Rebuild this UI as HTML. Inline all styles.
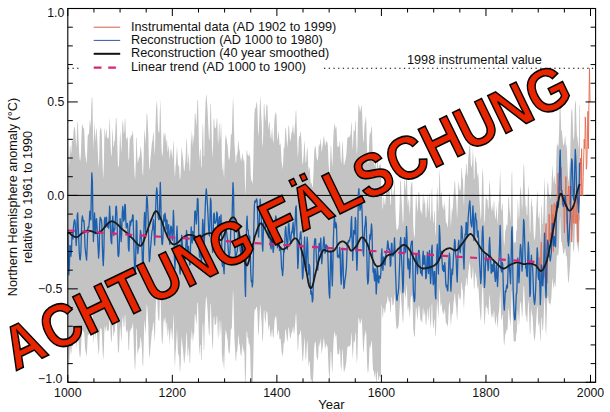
<!DOCTYPE html>
<html><head><meta charset="utf-8"><style>html,body{margin:0;padding:0;background:#fff;}svg{display:block;}</style></head>
<body><svg width="610" height="412" viewBox="0 0 610 412">
<rect width="610" height="412" fill="#fff"/>
<polygon points="67.8,135.1 68.3,153.4 68.8,168.6 69.4,160.8 69.9,145.7 70.4,146.8 70.9,154.5 71.5,150.2 72.0,137.8 72.5,141.0 73.0,141.3 73.5,131.5 74.1,128.0 74.6,126.6 75.1,128.6 75.6,137.2 76.2,147.7 76.7,139.8 77.2,123.6 77.7,121.2 78.3,133.5 78.8,144.2 79.3,154.8 79.8,160.1 80.3,160.9 80.9,153.7 81.4,137.5 81.9,126.8 82.4,123.4 83.0,126.9 83.5,128.5 84.0,127.7 84.5,136.0 85.0,150.9 85.6,156.8 86.1,160.2 86.6,164.0 87.1,153.8 87.7,136.1 88.2,134.1 88.7,135.0 89.2,130.8 89.8,119.5 90.3,122.0 90.8,128.0 91.3,106.6 91.8,97.6 92.4,97.7 92.9,126.3 93.4,149.5 93.9,138.6 94.5,121.5 95.0,131.8 95.5,142.2 96.0,131.0 96.5,127.6 97.1,136.8 97.6,146.7 98.1,157.4 98.6,168.1 99.2,159.6 99.7,133.8 100.2,126.5 100.7,129.6 101.3,128.6 101.8,134.3 102.3,154.6 102.8,170.6 103.3,178.9 103.9,162.9 104.4,131.2 104.9,127.6 105.4,138.6 106.0,132.0 106.5,127.8 107.0,138.3 107.5,138.6 108.0,136.3 108.6,140.1 109.1,131.3 109.6,116.6 110.1,126.7 110.7,148.2 111.2,154.7 111.7,156.5 112.2,136.3 112.8,127.5 113.3,145.0 113.8,147.4 114.3,140.4 114.8,141.2 115.4,130.0 115.9,118.3 116.4,117.9 116.9,127.0 117.5,150.2 118.0,166.3 118.5,167.4 119.0,164.0 119.5,148.8 120.1,130.8 120.6,136.7 121.1,152.6 121.6,147.0 122.2,127.1 122.7,119.7 123.2,123.8 123.7,133.7 124.3,131.9 124.8,118.8 125.3,119.3 125.8,133.3 126.3,140.2 126.9,137.7 127.4,136.4 127.9,141.2 128.4,158.2 129.0,160.7 129.5,144.7 130.0,135.3 130.5,139.2 131.0,136.7 131.6,134.5 132.1,136.0 132.6,131.1 133.1,131.7 133.7,151.3 134.2,166.9 134.7,176.0 135.2,179.2 135.8,162.4 136.3,137.3 136.8,138.6 137.3,158.2 137.8,163.6 138.4,159.8 138.9,157.2 139.4,157.5 139.9,154.2 140.5,145.8 141.0,148.1 141.5,153.0 142.0,159.3 142.5,173.1 143.1,176.0 143.6,158.4 144.1,137.3 144.6,128.8 145.2,137.8 145.7,144.7 146.2,127.0 146.7,112.4 147.3,115.3 147.8,123.9 148.3,134.5 148.8,156.4 149.3,169.9 149.9,167.0 150.4,159.1 150.9,154.3 151.4,148.2 152.0,141.9 152.5,141.1 153.0,134.4 153.5,131.5 154.0,140.6 154.6,156.0 155.1,146.4 155.6,122.2 156.1,109.1 156.7,100.6 157.2,105.4 157.7,120.9 158.2,129.8 158.7,132.4 159.3,132.5 159.8,113.6 160.3,99.3 160.8,115.8 161.4,144.7 161.9,155.1 162.4,155.9 162.9,151.0 163.5,135.6 164.0,132.0 164.5,137.7 165.0,131.8 165.5,135.6 166.1,145.6 166.6,138.9 167.1,140.4 167.6,152.4 168.2,149.3 168.7,145.1 169.2,153.3 169.7,160.3 170.2,153.8 170.8,148.6 171.3,149.4 171.8,154.5 172.3,159.4 172.9,151.8 173.4,140.1 173.9,146.6 174.4,170.3 175.0,177.7 175.5,166.7 176.0,162.8 176.5,153.8 177.0,145.4 177.6,156.8 178.1,167.6 178.6,164.0 179.1,166.2 179.7,177.9 180.2,180.1 180.7,171.9 181.2,155.0 181.7,146.5 182.3,153.1 182.8,157.0 183.3,160.9 183.8,168.7 184.4,171.5 184.9,166.0 185.4,160.4 185.9,152.7 186.5,137.6 187.0,141.5 187.5,161.9 188.0,164.2 188.5,152.0 189.1,158.9 189.6,170.7 190.1,170.4 190.6,150.5 191.2,129.4 191.7,140.3 192.2,146.9 192.7,134.5 193.2,136.0 193.8,143.8 194.3,131.9 194.8,113.5 195.3,112.8 195.9,120.2 196.4,126.9 196.9,114.9 197.4,99.8 198.0,100.4 198.5,120.6 199.0,150.8 199.5,162.3 200.0,149.5 200.6,149.2 201.1,166.5 201.6,167.9 202.1,145.0 202.7,122.8 203.2,128.9 203.7,156.0 204.2,156.3 204.7,127.4 205.3,109.2 205.8,98.2 206.3,93.8 206.8,98.8 207.4,107.6 207.9,117.1 208.4,128.8 208.9,138.5 209.5,140.8 210.0,122.4 210.5,102.3 211.0,105.7 211.5,128.2 212.1,148.4 212.6,157.8 213.1,145.7 213.6,119.8 214.2,118.0 214.7,127.9 215.2,128.5 215.7,127.6 216.2,126.0 216.8,117.4 217.3,119.3 217.8,139.6 218.3,145.0 218.9,125.0 219.4,122.5 219.9,141.0 220.4,135.7 221.0,120.8 221.5,134.6 222.0,167.8 222.5,171.8 223.0,159.4 223.6,173.3 224.1,178.8 224.6,161.0 225.1,142.6 225.7,134.6 226.2,136.4 226.7,139.3 227.2,143.6 227.7,146.0 228.3,155.3 228.8,159.4 229.3,159.8 229.8,156.6 230.4,145.9 230.9,134.1 231.4,135.0 231.9,132.5 232.5,110.9 233.0,96.7 233.5,105.4 234.0,128.4 234.5,144.3 235.1,153.0 235.6,162.1 236.1,163.2 236.6,155.3 237.2,154.4 237.7,150.2 238.2,140.4 238.7,143.1 239.2,148.9 239.8,151.1 240.3,157.2 240.8,159.7 241.3,161.5 241.9,156.6 242.4,152.1 242.9,157.2 243.4,161.5 243.9,158.0 244.5,164.0 245.0,186.3 245.5,195.6 246.0,176.4 246.6,150.3 247.1,150.5 247.6,155.2 248.1,154.5 248.7,156.2 249.2,156.5 249.7,152.8 250.2,157.5 250.7,174.4 251.3,181.3 251.8,179.9 252.3,184.4 252.8,180.3 253.4,158.0 253.9,130.7 254.4,113.9 254.9,108.7 255.4,108.5 256.0,105.8 256.5,102.6 257.0,102.3 257.5,111.1 258.1,131.5 258.6,136.6 259.1,124.7 259.6,110.7 260.2,95.6 260.7,102.4 261.2,114.0 261.7,121.9 262.2,141.3 262.8,147.8 263.3,130.3 263.8,104.9 264.3,103.2 264.9,115.8 265.4,122.3 265.9,113.8 266.4,106.0 266.9,103.4 267.5,106.6 268.0,122.6 268.5,130.3 269.0,122.6 269.6,121.9 270.1,131.2 270.6,137.3 271.1,139.3 271.7,130.9 272.2,127.6 272.7,137.9 273.2,143.6 273.7,140.0 274.3,122.9 274.8,115.7 275.3,114.6 275.8,111.5 276.4,114.4 276.9,126.4 277.4,141.5 277.9,137.7 278.4,130.7 279.0,135.5 279.5,145.2 280.0,144.4 280.5,142.5 281.1,151.8 281.6,162.4 282.1,164.5 282.6,169.7 283.2,162.3 283.7,147.6 284.2,149.1 284.7,143.9 285.2,129.8 285.8,126.7 286.3,133.7 286.8,140.7 287.3,147.9 287.9,140.1 288.4,125.9 288.9,125.2 289.4,132.0 289.9,139.3 290.5,141.4 291.0,136.9 291.5,132.0 292.0,132.7 292.6,127.7 293.1,123.5 293.6,132.3 294.1,135.8 294.7,128.5 295.2,122.3 295.7,111.4 296.2,110.2 296.7,124.5 297.3,142.5 297.8,157.7 298.3,152.5 298.8,138.4 299.4,136.0 299.9,136.1 300.4,132.1 300.9,131.8 301.4,140.9 302.0,155.5 302.5,165.0 303.0,163.5 303.5,156.7 304.1,145.3 304.6,140.1 305.1,151.7 305.6,162.9 306.2,161.5 306.7,152.0 307.2,146.0 307.7,151.4 308.2,165.7 308.8,171.4 309.3,166.4 309.8,168.5 310.3,178.2 310.9,184.2 311.4,182.2 311.9,184.5 312.4,187.8 312.9,185.5 313.5,172.5 314.0,156.2 314.5,149.3 315.0,146.8 315.6,146.1 316.1,152.3 316.6,157.8 317.1,159.3 317.7,160.9 318.2,156.5 318.7,146.1 319.2,142.9 319.7,147.0 320.3,142.6 320.8,138.1 321.3,147.0 321.8,152.6 322.4,146.8 322.9,143.7 323.4,138.6 323.9,135.5 324.4,139.4 325.0,145.6 325.5,144.9 326.0,140.5 326.5,141.0 327.1,143.0 327.6,142.1 328.1,152.1 328.6,163.3 329.2,172.2 329.7,172.7 330.2,160.6 330.7,145.3 331.2,145.9 331.8,159.4 332.3,167.5 332.8,156.7 333.3,138.8 333.9,128.5 334.4,122.7 334.9,126.0 335.4,129.6 335.9,126.0 336.5,127.5 337.0,139.5 337.5,147.5 338.0,146.1 338.6,146.6 339.1,147.5 339.6,140.5 340.1,142.5 340.6,157.5 341.2,164.4 341.7,157.9 342.2,144.4 342.7,140.3 343.3,155.9 343.8,164.7 344.3,164.9 344.8,162.3 345.4,160.0 345.9,157.0 346.4,153.7 346.9,144.7 347.4,137.3 348.0,138.3 348.5,136.2 349.0,137.4 349.5,137.1 350.1,134.8 350.6,135.1 351.1,125.2 351.6,121.1 352.1,136.8 352.7,150.4 353.2,141.2 353.7,129.6 354.2,130.6 354.8,131.8 355.3,120.2 355.8,122.5 356.3,143.6 356.9,155.3 357.4,146.8 357.9,122.6 358.4,105.7 358.9,104.5 359.5,107.7 360.0,112.2 360.5,110.3 361.0,107.4 361.6,104.6 362.1,112.3 362.6,126.9 363.1,140.2 363.6,142.7 364.2,130.3 364.7,123.3 365.2,122.0 365.7,116.0 366.3,121.0 366.8,141.5 367.3,158.3 367.8,164.1 368.4,162.3 368.9,152.3 369.4,137.2 369.9,131.5 370.4,135.0 371.0,130.1 371.5,125.3 372.0,129.8 372.5,147.6 373.1,160.1 373.6,157.7 374.1,163.6 374.6,167.1 375.1,159.0 375.7,163.9 376.2,177.0 376.7,171.0 377.2,157.8 377.8,162.0 378.3,168.9 378.8,169.4 379.3,164.4 379.9,165.3 380.4,165.9 380.9,161.6 381.4,195.1 381.9,190.0 382.5,207.2 383.0,209.6 383.5,197.5 384.0,197.3 384.6,204.2 385.1,204.5 385.6,198.7 386.1,191.8 386.6,193.1 387.2,188.1 387.7,182.1 388.2,184.5 388.7,190.0 389.3,189.4 389.8,192.6 390.3,205.3 390.8,204.2 391.4,184.3 391.9,184.2 392.4,195.9 392.9,195.0 393.4,195.6 394.0,189.2 394.5,179.1 395.0,190.7 395.5,210.2 396.1,223.7 396.6,230.2 397.1,229.7 397.6,229.1 398.1,228.6 398.7,224.5 399.2,213.0 399.7,200.8 400.2,183.1 400.8,178.1 401.3,193.6 401.8,202.3 402.3,212.8 402.9,224.7 403.4,220.0 403.9,192.4 404.4,178.2 404.9,181.4 405.5,191.7 406.0,183.0 406.5,168.0 407.0,178.1 407.6,202.7 408.1,207.2 408.6,198.2 409.1,201.5 409.6,215.7 410.2,207.3 410.7,187.4 411.2,184.3 411.7,182.1 412.3,182.2 412.8,204.4 413.3,226.8 413.8,233.5 414.4,238.1 414.9,234.3 415.4,212.1 415.9,194.5 416.4,196.2 417.0,206.3 417.5,213.2 418.0,203.5 418.5,191.8 419.1,191.7 419.6,196.7 420.1,205.9 420.6,212.6 421.1,210.1 421.7,213.4 422.2,215.2 422.7,198.4 423.2,192.6 423.8,204.5 424.3,203.2 424.8,196.7 425.3,206.4 425.8,217.9 426.4,216.5 426.9,202.3 427.4,193.5 427.9,206.1 428.5,213.0 429.0,195.6 429.5,191.9 430.0,210.9 430.6,222.1 431.1,214.5 431.6,191.4 432.1,186.9 432.6,209.7 433.2,223.3 433.7,222.0 434.2,211.3 434.7,210.9 435.3,232.5 435.8,236.0 436.3,214.4 436.8,193.4 437.3,185.7 437.9,200.8 438.4,213.0 438.9,193.4 439.4,168.3 440.0,178.1 440.5,197.4 441.0,193.7 441.5,191.7 442.1,201.0 442.6,208.5 443.1,204.2 443.6,209.8 444.1,209.5 444.7,201.5 445.2,207.1 445.7,220.1 446.2,223.8 446.8,222.1 447.3,226.4 447.8,227.4 448.3,216.1 448.8,200.4 449.4,192.7 449.9,197.0 450.4,216.4 450.9,227.7 451.5,215.5 452.0,207.4 452.5,212.2 453.0,204.7 453.6,194.0 454.1,189.2 454.6,180.3 455.1,182.0 455.6,193.3 456.2,198.7 456.7,212.0 457.2,219.3 457.7,203.7 458.3,184.9 458.8,180.9 459.3,188.4 459.8,189.7 460.3,192.1 460.9,185.0 461.4,167.5 461.9,169.3 462.4,177.8 463.0,179.9 463.5,198.1 464.0,206.7 464.5,189.1 465.1,174.3 465.6,175.1 466.1,163.8 466.6,164.4 467.1,177.5 467.7,171.2 468.2,158.9 468.7,153.2 469.2,147.9 469.8,143.7 470.3,150.6 470.8,163.4 471.3,166.2 471.8,167.8 472.4,159.4 472.9,148.3 473.4,158.0 473.9,180.0 474.5,178.2 475.0,160.0 475.5,155.4 476.0,161.2 476.6,162.4 477.1,172.5 477.6,177.5 478.1,172.0 478.6,178.6 479.2,192.6 479.7,203.0 480.2,211.5 480.7,220.6 481.3,214.4 481.8,189.6 482.3,173.0 482.8,168.1 483.3,179.2 483.9,207.9 484.4,224.5 484.9,220.0 485.4,205.6 486.0,194.3 486.5,198.1 487.0,199.8 487.5,199.5 488.1,209.4 488.6,206.8 489.1,186.1 489.6,179.1 490.1,188.9 490.7,200.7 491.2,212.0 491.7,207.8 492.2,204.1 492.8,210.9 493.3,210.3 493.8,200.6 494.3,201.9 494.8,214.5 495.4,219.8 495.9,215.7 496.4,204.9 496.9,212.5 497.5,224.7 498.0,216.9 498.5,203.2 499.0,200.6 499.6,186.0 500.1,168.9 500.6,183.0 501.1,209.5 501.6,211.6 502.2,202.7 502.7,204.5 503.2,221.8 503.7,240.1 504.3,246.6 504.8,238.4 505.3,229.0 505.8,230.2 506.3,226.3 506.9,223.5 507.4,226.2 507.9,214.5 508.4,195.1 509.0,198.5 509.5,209.0 510.0,213.8 510.5,222.2 511.0,207.0 511.6,174.8 512.1,169.9 512.6,196.4 513.1,225.8 513.7,241.5 514.2,242.7 514.7,242.5 515.2,242.4 515.8,242.2 516.3,231.2 516.8,230.5 517.3,215.9 517.8,198.4 518.4,207.9 518.9,221.1 519.4,213.8 519.9,194.0 520.5,186.0 521.0,189.3 521.5,198.4 522.0,210.6 522.5,204.7 523.1,180.3 523.6,164.5 524.1,165.6 524.6,180.3 525.2,198.0 525.7,207.8 526.2,205.5 526.7,214.7 527.3,215.5 527.8,197.0 528.3,184.0 528.8,190.8 529.3,212.5 529.9,233.7 530.4,230.6 530.9,204.1 531.4,195.9 532.0,205.9 532.5,206.1 533.0,215.8 533.5,230.7 534.0,237.2 534.6,241.1 535.1,236.9 535.6,228.4 536.1,215.2 536.7,202.2 537.2,189.5 537.7,194.9 538.2,216.2 538.8,218.8 539.3,210.4 539.8,224.1 540.3,241.9 540.8,231.5 541.4,205.3 541.9,206.8 542.4,224.2 542.9,224.5 543.5,212.7 544.0,192.9 544.5,176.0 545.0,190.7 545.5,225.3 546.1,234.7 546.6,214.5 547.1,190.9 547.6,181.5 548.2,183.9 548.7,191.9 549.2,195.1 549.7,195.4 550.3,199.6 550.8,195.2 551.3,191.7 551.8,178.6 552.3,164.2 552.9,173.6 553.4,184.4 553.9,177.7 554.4,175.2 555.0,183.7 555.5,184.4 556.0,171.9 556.5,151.2 557.0,142.4 557.6,145.5 558.1,147.1 558.6,143.7 559.1,131.6 559.7,103.9 560.2,94.6 560.7,115.2 561.2,130.6 561.8,130.8 562.3,135.6 562.8,141.1 563.3,145.8 563.8,144.7 564.4,142.8 564.9,136.3 565.4,136.8 565.9,146.3 566.5,144.8 567.0,150.2 567.5,165.2 568.0,176.9 568.5,182.9 569.1,176.5 569.6,165.2 570.1,157.8 570.6,137.1 571.2,113.0 571.7,109.5 572.2,108.7 572.7,121.2 573.3,138.6 573.8,140.4 574.3,132.8 574.8,108.4 575.3,99.8 575.9,103.6 576.4,121.8 576.9,135.0 577.4,137.2 578.0,143.0 578.5,150.4 579.0,137.1 579.5,105.6 580.0,104.7 580.0,220.1 579.5,220.9 579.0,243.9 578.5,254.0 578.0,249.1 577.4,245.4 576.9,244.4 576.4,235.4 575.9,222.9 575.3,220.8 574.8,227.6 574.3,245.8 573.8,251.7 573.3,250.7 572.7,238.4 572.2,229.7 571.7,230.5 571.2,233.2 570.6,250.7 570.1,265.8 569.6,271.1 569.1,279.3 568.5,283.8 568.0,279.4 567.5,270.7 567.0,259.5 566.5,255.3 565.9,256.0 565.4,248.7 564.9,248.0 564.4,252.5 563.8,253.5 563.3,253.9 562.8,250.1 562.3,245.7 561.8,241.9 561.2,241.5 560.7,230.3 560.2,215.6 559.7,222.6 559.1,243.2 558.6,252.6 558.1,255.9 557.6,255.6 557.0,254.2 556.5,261.3 556.0,277.1 555.5,286.8 555.0,287.1 554.4,281.7 553.9,284.3 553.4,290.0 552.9,283.0 552.3,277.0 551.8,288.2 551.3,298.3 550.8,301.6 550.3,305.6 549.7,303.3 549.2,303.8 548.7,302.2 548.2,297.1 547.6,296.0 547.1,303.4 546.6,320.8 546.1,335.9 545.5,329.5 545.0,304.8 544.5,294.5 544.0,307.1 543.5,321.6 542.9,330.4 542.4,330.3 541.9,317.9 541.4,316.9 540.8,335.8 540.3,343.3 539.8,330.3 539.3,320.3 538.8,326.1 538.2,324.1 537.7,308.5 537.2,304.4 536.7,313.4 536.1,322.6 535.6,332.0 535.1,338.1 534.6,341.0 534.0,338.2 533.5,333.4 533.0,322.6 532.5,315.5 532.0,315.3 531.4,308.1 530.9,314.0 530.4,333.1 529.9,335.3 529.3,320.0 528.8,304.3 528.3,299.4 527.8,308.8 527.3,322.2 526.7,321.7 526.2,315.1 525.7,316.8 525.2,309.7 524.6,296.9 524.1,286.3 523.6,285.5 523.1,296.9 522.5,314.5 522.0,318.6 521.5,309.8 521.0,303.2 520.5,300.7 519.9,306.4 519.4,320.7 518.9,325.9 518.4,316.4 517.8,309.5 517.3,322.2 516.8,332.7 516.3,333.3 515.8,341.2 515.2,341.4 514.7,341.5 514.2,341.7 513.7,340.9 513.1,329.6 512.6,308.4 512.1,289.4 511.6,293.0 511.0,316.3 510.5,327.4 510.0,321.4 509.5,318.0 509.0,310.5 508.4,308.1 507.9,322.2 507.4,330.8 506.9,329.0 506.3,331.1 505.8,333.9 505.3,333.2 504.8,340.0 504.3,346.0 503.7,341.3 503.2,328.1 502.7,315.6 502.2,314.2 501.6,320.6 501.1,319.0 500.6,299.7 500.1,289.4 499.6,301.7 499.0,312.0 498.5,313.8 498.0,323.6 497.5,329.0 496.9,320.1 496.4,314.5 495.9,322.1 495.4,324.9 494.8,320.9 494.3,311.7 493.8,310.6 493.3,317.5 492.8,317.7 492.2,312.7 491.7,315.2 491.2,318.2 490.7,309.8 490.1,301.2 489.6,293.9 489.1,298.8 488.6,313.7 488.1,315.4 487.5,308.1 487.0,308.2 486.5,307.0 486.0,304.1 485.4,312.2 484.9,322.4 484.4,325.5 483.9,313.4 483.3,292.6 482.8,284.4 482.3,287.8 481.8,299.6 481.3,317.3 480.7,321.6 480.2,314.8 479.7,308.4 479.2,300.7 478.6,290.3 478.1,285.3 477.6,289.1 477.1,285.2 476.6,277.7 476.0,276.7 475.5,272.3 475.0,275.3 474.5,288.2 473.9,289.3 473.4,273.2 472.9,265.9 472.4,273.8 471.8,279.7 471.3,278.4 470.8,276.4 470.3,267.1 469.8,262.1 469.2,265.3 468.7,269.2 468.2,273.5 467.7,282.5 467.1,287.3 466.6,278.0 466.1,277.8 465.6,286.2 465.1,285.8 464.5,296.7 464.0,309.6 463.5,303.6 463.0,290.7 462.4,289.3 461.9,283.3 461.4,282.3 460.9,295.1 460.3,300.5 459.8,298.9 459.3,298.1 458.8,292.9 458.3,296.0 457.7,309.7 457.2,321.1 456.7,315.9 456.2,306.4 455.6,302.6 455.1,294.4 454.6,293.1 454.1,299.5 453.6,302.8 453.0,310.5 452.5,315.8 452.0,312.3 451.5,318.0 450.9,326.8 450.4,318.6 449.9,304.5 449.4,301.5 448.8,307.1 448.3,318.4 447.8,326.6 447.3,325.9 446.8,322.9 446.2,324.2 445.7,321.6 445.2,312.3 444.7,308.4 444.1,314.3 443.6,314.6 443.1,310.7 442.6,314.0 442.1,308.8 441.5,302.4 441.0,304.2 440.5,307.2 440.0,293.6 439.4,286.8 438.9,305.2 438.4,319.6 437.9,311.1 437.3,300.3 436.8,306.1 436.3,321.4 435.8,337.1 435.3,334.8 434.7,319.3 434.2,319.7 433.7,327.5 433.2,328.5 432.6,318.7 432.1,302.4 431.6,305.6 431.1,322.4 430.6,327.9 430.0,319.9 429.5,306.2 429.0,308.9 428.5,321.5 427.9,316.6 427.4,307.5 426.9,313.9 426.4,324.2 425.8,325.2 425.3,316.9 424.8,309.9 424.3,314.7 423.8,315.6 423.2,307.0 422.7,311.2 422.2,323.3 421.7,322.0 421.1,319.6 420.6,321.3 420.1,316.3 419.6,309.6 419.1,305.8 418.5,305.7 418.0,313.9 417.5,320.8 417.0,315.6 416.4,308.1 415.9,306.7 415.4,319.2 414.9,334.9 414.4,337.4 413.8,333.8 413.3,328.7 412.8,312.2 412.3,295.8 411.7,295.4 411.2,296.7 410.7,298.6 410.2,312.7 409.6,318.6 409.1,308.1 408.6,305.5 408.1,311.8 407.6,308.4 407.0,290.5 406.5,283.0 406.0,293.8 405.5,299.9 404.9,292.4 404.4,290.1 403.9,300.3 403.4,320.3 402.9,323.7 402.3,315.2 401.8,307.7 401.3,301.5 400.8,290.5 400.2,294.2 399.7,307.2 399.2,316.0 398.7,324.5 398.1,327.6 397.6,328.1 397.1,328.7 396.6,329.2 396.1,324.7 395.5,315.1 395.0,301.2 394.5,293.0 394.0,300.4 393.4,305.1 392.9,304.7 392.4,305.4 391.9,297.0 391.4,297.1 390.8,311.5 390.3,312.3 389.8,303.2 389.3,300.9 388.7,301.4 388.2,297.5 387.7,295.8 387.2,300.2 386.6,303.9 386.1,303.2 385.6,308.5 385.1,312.8 384.6,312.9 384.0,308.2 383.5,308.6 383.0,317.7 382.5,316.2 381.9,304.0 381.4,307.8 380.9,373.3 380.4,377.1 379.9,376.6 379.3,375.9 378.8,380.3 378.3,379.9 377.8,373.8 377.2,370.1 376.7,381.7 376.2,382.3 375.7,375.4 375.1,370.9 374.6,378.0 374.1,374.8 373.6,369.5 373.1,371.5 372.5,360.2 372.0,344.3 371.5,340.1 371.0,344.1 370.4,348.2 369.9,344.8 369.4,349.7 368.9,362.8 368.4,371.5 367.8,372.9 367.3,367.7 366.8,352.5 366.3,334.1 365.7,329.5 365.2,334.6 364.7,335.7 364.2,341.8 363.6,352.8 363.1,350.4 362.6,338.3 362.1,325.0 361.6,318.0 361.0,320.5 360.5,323.1 360.0,324.8 359.5,320.7 358.9,317.8 358.4,318.8 357.9,334.2 357.4,356.4 356.9,364.2 356.3,353.5 355.8,334.0 355.3,331.9 354.8,342.5 354.2,341.4 353.7,340.5 353.2,351.1 352.7,359.6 352.1,347.0 351.6,332.3 351.1,335.9 350.6,345.1 350.1,344.7 349.5,346.7 349.0,346.8 348.5,345.6 348.0,347.4 347.4,346.3 346.9,353.2 346.4,361.6 345.9,364.6 345.4,367.4 344.8,369.5 344.3,371.9 343.8,371.7 343.3,363.3 342.7,348.4 342.2,352.2 341.7,365.0 341.2,371.2 340.6,364.6 340.1,350.1 339.6,348.2 339.1,354.9 338.6,354.1 338.0,353.7 337.5,355.1 337.0,347.4 336.5,335.6 335.9,334.1 335.4,337.7 334.9,334.0 334.4,330.5 333.9,335.9 333.3,345.8 332.8,363.6 332.3,374.3 331.8,365.9 331.2,352.0 330.7,351.2 330.2,366.5 329.7,378.7 329.2,378.2 328.6,368.8 328.1,356.9 327.6,346.2 327.1,347.0 326.5,344.6 326.0,343.9 325.5,348.3 325.0,348.8 324.4,341.9 323.9,337.5 323.4,340.5 322.9,345.7 322.4,348.8 321.8,354.7 321.3,348.3 320.8,338.1 320.3,342.6 319.7,347.1 319.2,342.1 318.7,345.2 318.2,356.3 317.7,360.8 317.1,358.5 316.6,356.3 316.1,349.4 315.6,341.7 315.0,341.9 314.5,343.9 314.0,351.3 313.5,369.6 312.9,382.3 312.4,382.3 311.9,382.1 311.4,379.0 310.9,381.1 310.3,373.8 309.8,362.2 309.3,360.2 308.8,366.9 308.2,360.8 307.7,344.8 307.2,339.7 306.7,347.2 306.2,358.3 305.6,360.0 305.1,348.3 304.6,336.6 304.1,342.3 303.5,353.9 303.0,360.6 302.5,361.8 302.0,352.5 301.4,338.6 300.9,330.2 300.4,330.6 299.9,334.2 299.4,334.1 298.8,336.1 298.3,348.0 297.8,352.1 297.3,339.3 296.7,324.7 296.2,313.5 295.7,314.8 295.2,323.6 294.7,328.6 294.1,334.3 293.6,331.9 293.1,325.9 292.6,329.3 292.0,332.9 291.5,332.3 291.0,335.6 290.5,338.6 289.9,337.0 289.4,331.9 288.9,327.3 288.4,327.9 287.9,337.4 287.3,342.6 286.8,337.9 286.3,333.4 285.8,328.8 285.2,330.9 284.7,340.3 284.2,343.7 283.7,342.6 283.2,352.3 282.6,357.1 282.1,353.5 281.6,351.9 281.1,344.7 280.5,338.3 280.0,339.3 279.5,339.5 279.0,332.8 278.4,329.4 277.9,333.7 277.4,336.0 276.9,325.8 276.4,317.8 275.8,315.8 275.3,317.8 274.8,318.8 274.3,323.9 273.7,335.9 273.2,338.8 272.7,335.3 272.2,328.6 271.7,331.2 271.1,337.5 270.6,336.2 270.1,331.8 269.6,325.0 269.0,325.4 268.5,330.9 268.0,325.3 267.5,313.4 266.9,310.9 266.4,312.6 265.9,318.2 265.4,324.3 264.9,319.4 264.3,309.9 263.8,311.0 263.3,329.9 262.8,343.0 262.2,338.1 261.7,323.5 261.2,317.6 260.7,308.8 260.2,303.8 259.6,315.7 259.1,326.5 258.6,336.2 258.1,332.3 257.5,315.1 257.0,306.9 256.5,306.4 256.0,308.4 255.4,310.0 254.9,309.1 254.4,313.0 253.9,329.6 253.4,358.4 252.8,382.3 252.3,382.3 251.8,382.1 251.3,382.3 250.7,374.1 250.2,351.2 249.7,343.0 249.2,345.7 248.7,342.8 248.1,337.6 247.6,337.9 247.1,331.2 246.6,331.6 246.0,369.5 245.5,382.3 245.0,382.3 244.5,354.7 243.9,347.6 243.4,353.5 242.9,348.8 242.4,343.1 241.9,349.8 241.3,356.7 240.8,355.0 240.3,352.6 239.8,345.6 239.2,343.6 238.7,337.3 238.2,334.5 237.7,346.4 237.2,351.5 236.6,352.6 236.1,361.4 235.6,360.0 235.1,349.7 234.5,340.0 234.0,322.7 233.5,298.0 233.0,289.1 232.5,304.4 231.9,327.0 231.4,329.6 230.9,328.7 230.4,340.5 229.8,351.1 229.3,354.0 228.8,353.5 228.3,349.3 227.7,340.2 227.2,337.9 226.7,333.9 226.2,331.2 225.7,329.6 225.1,337.2 224.6,354.2 224.1,370.3 223.6,365.2 223.0,352.8 222.5,363.9 222.0,360.4 221.5,330.8 221.0,318.6 220.4,331.8 219.9,336.5 219.4,320.1 218.9,322.3 218.3,339.9 217.8,335.1 217.3,317.2 216.8,315.5 216.2,323.1 215.7,324.5 215.2,325.3 214.7,324.8 214.2,316.1 213.6,317.7 213.1,340.4 212.6,351.0 212.1,342.8 211.5,325.1 211.0,305.5 210.5,302.6 210.0,320.1 209.5,336.3 208.9,334.3 208.4,325.9 207.9,315.8 207.4,307.7 206.8,300.1 206.3,295.8 205.8,299.7 205.3,309.3 204.7,325.2 204.2,350.3 203.7,350.0 203.2,326.7 202.7,321.6 202.1,340.8 201.6,360.6 201.1,359.4 200.6,344.6 200.0,344.9 199.5,355.9 199.0,346.1 198.5,320.3 198.0,303.0 197.4,302.6 196.9,315.6 196.4,325.8 195.9,320.1 195.3,313.8 194.8,314.4 194.3,330.1 193.8,340.3 193.2,333.6 192.7,332.4 192.2,342.9 191.7,337.3 191.2,328.1 190.6,345.8 190.1,362.8 189.6,363.0 189.1,352.5 188.5,346.2 188.0,357.0 187.5,354.8 187.0,335.6 186.5,331.5 185.9,345.6 185.4,352.7 184.9,358.1 184.4,363.6 183.8,360.6 183.3,352.4 182.8,348.1 182.3,343.6 181.7,336.0 181.2,344.8 180.7,363.2 180.2,372.4 179.7,369.7 179.1,355.9 178.6,352.9 178.1,356.7 177.6,343.0 177.0,327.9 176.5,337.8 176.0,348.8 175.5,353.5 175.0,367.9 174.4,357.5 173.9,323.7 173.4,313.5 172.9,329.8 172.3,341.4 171.8,334.9 171.3,328.6 170.8,328.3 170.2,336.0 169.7,345.0 169.2,336.7 168.7,326.8 168.2,332.8 167.6,337.1 167.1,323.3 166.6,322.2 166.1,330.7 165.5,319.8 165.0,316.2 164.5,323.3 164.0,317.6 163.5,321.9 162.9,338.5 162.4,343.8 161.9,342.9 161.4,332.4 160.8,303.7 160.3,287.9 159.8,302.3 159.3,320.8 158.7,320.8 158.2,318.4 157.7,310.4 157.2,296.6 156.7,292.7 156.1,300.4 155.6,312.0 155.1,333.9 154.6,342.7 154.0,329.0 153.5,320.9 153.0,323.8 152.5,330.1 152.0,331.0 151.4,337.0 150.9,343.0 150.4,347.6 149.9,355.3 149.3,358.3 148.8,345.8 148.3,325.0 147.8,315.0 147.3,306.7 146.7,303.8 146.2,317.9 145.7,335.2 145.2,328.5 144.6,319.5 144.1,328.0 143.6,349.1 143.1,366.9 142.5,364.1 142.0,350.1 141.5,343.7 141.0,338.7 140.5,336.3 139.9,345.0 139.4,348.5 138.9,348.2 138.4,351.1 137.8,355.1 137.3,349.5 136.8,329.4 136.3,328.2 135.8,353.8 135.2,370.6 134.7,367.2 134.2,358.1 133.7,342.8 133.1,324.0 132.6,323.6 132.1,328.5 131.6,327.2 131.0,329.4 130.5,331.8 130.0,328.2 129.5,336.9 129.0,351.2 128.4,348.9 127.9,333.8 127.4,329.6 126.9,330.8 126.3,333.0 125.8,327.1 125.3,315.3 124.8,315.1 124.3,326.1 123.7,327.7 123.2,319.6 122.7,316.4 122.2,322.3 121.6,338.3 121.1,342.5 120.6,329.9 120.1,325.3 119.5,339.1 119.0,350.6 118.5,352.9 118.0,351.8 117.5,339.6 116.9,322.2 116.4,315.5 115.9,315.8 115.4,324.3 114.8,332.3 114.3,331.6 113.8,336.6 113.3,334.8 112.8,322.4 112.2,328.6 111.7,342.5 111.2,341.3 110.7,336.8 110.1,322.4 109.6,315.8 109.1,325.8 108.6,331.8 108.0,329.5 107.5,331.2 107.0,331.2 106.5,324.7 106.0,327.7 105.4,332.3 104.9,325.5 104.4,328.2 103.9,349.1 103.3,359.9 102.8,354.9 102.3,344.8 101.8,331.8 101.3,328.3 100.7,329.2 100.2,327.4 99.7,332.5 99.2,349.8 98.6,355.7 98.1,348.8 97.6,341.9 97.1,335.4 96.5,329.3 96.0,331.7 95.5,339.3 95.0,332.2 94.5,325.3 93.9,337.0 93.4,344.4 92.9,328.6 92.4,308.9 91.8,308.9 91.3,315.1 90.8,329.9 90.3,325.9 89.8,324.2 89.2,332.1 88.7,335.2 88.2,334.7 87.7,336.2 87.1,348.9 86.6,356.4 86.1,353.9 85.6,351.7 85.0,347.7 84.5,337.2 84.0,331.4 83.5,332.2 83.0,331.2 82.4,328.8 81.9,331.4 81.4,339.4 80.9,351.7 80.3,357.4 79.8,357.1 79.3,353.4 78.8,345.6 78.3,337.6 77.7,328.2 77.2,330.2 76.7,342.9 76.2,349.2 75.6,341.0 75.1,334.2 74.6,332.6 74.1,333.7 73.5,336.6 73.0,344.6 72.5,344.3 72.0,341.6 71.5,351.7 70.9,355.1 70.4,348.7 69.9,347.8 69.4,360.0 68.8,366.3 68.3,353.8 67.8,338.8" fill="#c3c3c3" stroke="none"/>
<path d="M67.8,195.4H595.6" stroke="#000" stroke-width="1" fill="none"/>
<polyline points="539.3,257.1 539.8,273.9 540.3,281.4 540.8,251.5 541.4,242.1 541.9,279.5 542.4,277.6 542.9,279.5 543.5,270.2 544.0,277.6 544.5,270.2 545.0,266.4 545.5,232.8 546.1,223.4 546.6,260.8 547.1,283.2 547.6,255.2 548.2,242.1 548.7,242.1 549.2,214.1 549.7,242.1 550.3,232.8 550.8,242.1 551.3,221.6 551.8,204.7 552.3,223.4 552.9,214.1 553.4,251.5 553.9,204.7 554.4,202.9 555.0,204.7 555.5,242.1 556.0,204.7 556.5,214.1 557.0,204.7 557.6,186.1 558.1,173.0 558.6,195.4 559.1,186.1 559.7,195.4 560.2,195.4 560.7,186.1 561.2,167.4 561.8,195.4 562.3,204.7 562.8,195.4 563.3,204.7 563.8,204.7 564.4,232.8 564.9,204.7 565.4,195.4 565.9,176.7 566.5,223.4 567.0,223.4 567.5,242.1 568.0,195.4 568.5,186.1 569.1,195.4 569.6,204.7 570.1,186.1 570.6,195.4 571.2,186.1 571.7,242.1 572.2,223.4 572.7,214.1 573.3,204.7 573.8,223.4 574.3,195.4 574.8,204.7 575.3,223.4 575.9,223.4 576.4,176.7 576.9,223.4 577.4,214.1 578.0,242.1 578.5,186.1 579.0,204.7 579.5,186.1 580.0,176.7 580.6,158.0 581.1,195.4 581.6,148.7 582.1,195.4 582.7,195.4 583.2,176.7 583.7,158.0 584.2,139.3 584.8,148.7 585.3,116.9 585.8,130.0 586.3,169.2 586.8,165.5 587.4,139.3 587.9,111.3 588.4,148.7 588.9,105.7 589.5,68.3 590.0,102.0" fill="none" stroke="#e66a4e" stroke-width="0.9" stroke-linejoin="round"/>
<polyline points="67.8,232.2 68.3,255.5 68.8,274.9 69.4,264.8 69.9,245.4 70.4,246.6 70.9,256.3 71.5,250.7 72.0,234.7 72.5,238.7 73.0,239.0 73.5,226.3 74.1,221.6 74.6,219.7 75.1,222.1 75.6,232.7 76.2,245.5 76.7,235.6 77.2,215.8 77.7,212.9 78.3,227.7 78.8,240.5 79.3,253.0 79.8,259.1 80.3,259.8 80.9,251.2 81.4,232.1 81.9,219.8 82.4,215.9 83.0,219.8 83.5,221.6 84.0,220.7 84.5,229.9 85.0,246.5 85.6,252.8 86.1,256.3 86.6,260.2 87.1,248.8 87.7,229.4 88.2,227.0 88.7,227.9 89.2,223.3 89.8,211.2 90.3,213.7 90.8,219.9 91.3,197.6 91.8,172.8 92.4,181.6 92.9,217.9 93.4,241.6 93.9,230.3 94.5,212.9 95.0,223.1 95.5,233.6 96.0,222.2 96.5,218.7 97.1,227.8 97.6,237.5 98.1,247.8 98.6,258.0 99.2,249.5 99.7,224.4 100.2,217.2 100.7,220.1 101.3,219.1 101.8,224.4 102.3,243.4 102.8,258.2 103.3,265.7 103.9,250.4 104.4,220.9 104.9,217.3 105.4,227.3 106.0,221.2 106.5,217.2 107.0,226.6 107.5,226.9 108.0,224.7 108.6,228.2 109.1,220.0 109.6,206.1 110.1,215.6 110.7,235.9 111.2,242.1 111.7,243.9 112.2,224.6 112.8,216.1 113.3,233.1 113.8,235.5 114.3,228.7 114.8,229.5 115.4,218.4 115.9,206.7 116.4,206.2 116.9,215.2 117.5,238.8 118.0,255.2 118.5,256.6 119.0,253.2 119.5,237.5 120.1,218.7 120.6,224.8 121.1,241.6 121.6,235.7 122.2,214.3 122.7,206.3 123.2,210.5 123.7,221.2 124.3,219.1 124.8,204.5 125.3,204.8 125.8,220.2 126.3,227.9 126.9,224.9 127.4,223.3 127.9,228.6 128.4,248.1 129.0,251.0 129.5,232.4 130.0,221.2 130.5,225.6 131.0,222.5 131.6,219.6 132.1,221.2 132.6,214.9 133.1,215.3 133.7,239.2 134.2,258.3 134.7,269.7 135.2,273.8 135.8,252.5 136.3,220.4 136.8,221.8 137.3,246.8 137.8,253.7 138.4,248.6 138.9,245.1 139.4,245.4 139.9,241.1 140.5,230.4 141.0,233.5 141.5,239.8 142.0,247.8 142.5,265.0 143.1,268.6 143.6,247.3 144.1,222.1 144.6,212.3 145.2,223.5 145.7,232.0 146.2,211.6 146.7,195.1 147.3,199.0 147.8,209.2 148.3,221.6 148.8,246.5 149.3,261.6 149.9,258.3 150.4,249.5 150.9,244.2 151.4,237.4 152.0,230.6 152.5,229.8 153.0,222.6 153.5,219.6 154.0,229.1 154.6,245.1 155.1,235.0 155.6,209.9 156.1,196.5 156.7,187.8 157.2,192.3 157.7,208.0 158.2,217.1 158.7,219.7 159.3,219.6 159.8,198.6 160.3,182.3 160.8,200.0 161.4,232.1 161.9,243.8 162.4,244.6 162.9,238.5 163.5,219.8 164.0,214.9 164.5,221.1 165.0,213.2 165.5,217.1 166.1,229.1 166.6,219.7 167.1,220.8 167.6,235.9 168.2,231.1 168.7,224.6 169.2,235.3 169.7,244.4 170.2,234.5 170.8,226.2 171.3,226.5 171.8,233.4 172.3,240.3 172.9,227.9 173.4,210.5 173.9,221.5 174.4,257.7 175.0,268.9 175.5,253.5 176.0,248.5 176.5,236.8 177.0,226.2 177.6,242.3 178.1,257.1 178.6,253.0 179.1,256.3 179.7,271.2 180.2,274.1 180.7,264.3 181.2,244.5 181.7,235.1 182.3,243.3 182.8,248.3 183.3,253.0 183.8,261.9 184.4,265.2 184.9,259.3 185.4,253.5 185.9,245.8 186.5,230.5 187.0,235.0 187.5,255.8 188.0,258.3 188.5,246.5 189.1,253.5 189.6,264.9 190.1,264.7 190.6,246.1 191.2,226.9 191.7,236.9 192.2,243.0 192.7,231.5 193.2,232.8 193.8,240.1 194.3,228.8 194.8,211.6 195.3,210.9 195.9,217.8 196.4,224.0 196.9,212.7 197.4,198.4 198.0,198.9 198.5,217.9 199.0,246.3 199.5,257.2 200.0,245.1 200.6,244.7 201.1,261.1 201.6,262.5 202.1,240.6 202.7,219.4 203.2,225.0 203.7,251.0 204.2,251.3 204.7,223.4 205.3,205.8 205.8,195.0 206.3,189.0 206.8,195.5 207.4,203.9 207.9,213.0 208.4,224.3 208.9,233.8 209.5,236.0 210.0,217.9 210.5,198.1 211.0,201.4 211.5,223.4 212.1,243.2 212.6,252.4 213.1,240.5 213.6,214.9 214.2,213.0 214.7,222.7 215.2,223.2 215.7,222.3 216.2,220.6 216.8,212.0 217.3,213.8 217.8,234.1 218.3,239.4 218.9,219.3 219.4,216.7 219.9,235.3 220.4,229.8 221.0,214.8 221.5,228.6 222.0,262.3 222.5,266.3 223.0,253.8 223.6,267.9 224.1,273.8 224.6,255.5 225.1,236.4 225.7,227.9 226.2,229.8 226.7,232.9 227.2,237.5 227.7,240.2 228.3,250.6 228.8,255.5 229.3,256.2 229.8,252.9 230.4,241.0 230.9,227.6 231.4,228.7 231.9,225.7 232.5,200.1 233.0,182.7 233.5,192.7 234.0,220.5 234.5,239.9 235.1,250.6 235.6,262.0 236.1,263.4 236.6,253.2 237.2,251.6 237.7,245.6 238.2,231.8 238.7,234.5 239.2,241.2 239.8,243.1 240.3,250.5 240.8,252.8 241.3,254.3 241.9,246.2 242.4,238.3 242.9,244.2 243.4,249.1 243.9,242.2 244.5,249.8 245.0,282.7 245.5,296.4 246.0,265.4 246.6,222.9 247.1,216.2 247.6,229.8 248.1,229.7 248.7,235.6 249.2,239.0 249.7,236.1 250.2,245.5 250.7,271.3 251.3,281.7 251.8,280.4 252.3,286.9 252.8,281.9 253.4,255.0 253.9,223.2 254.4,205.0 254.9,200.8 255.4,202.3 256.0,200.9 256.5,199.0 257.0,200.1 257.5,210.4 258.1,231.6 258.6,237.1 259.1,226.0 259.6,213.3 260.2,199.2 260.7,205.8 261.2,217.2 261.7,225.1 262.2,244.3 262.8,251.1 263.3,234.3 263.8,209.5 264.3,208.2 264.9,221.0 265.4,227.8 265.9,219.5 266.4,211.7 266.9,209.2 267.5,212.6 268.0,229.5 268.5,237.8 269.0,230.0 269.6,229.5 270.1,239.7 270.6,246.6 271.1,248.9 271.7,239.5 272.2,235.6 272.7,246.4 273.2,252.4 273.7,248.1 274.3,229.2 274.8,221.1 275.3,219.6 275.8,215.9 276.4,218.7 276.9,231.5 277.4,247.8 277.9,243.2 278.4,235.3 279.0,240.2 279.5,250.5 280.0,249.3 280.5,246.8 281.1,256.7 281.6,268.1 282.1,270.1 282.6,275.6 283.2,267.1 283.7,250.7 284.2,252.1 284.7,246.2 285.2,230.3 285.8,226.7 286.3,234.2 286.8,241.7 287.3,249.3 287.9,240.6 288.4,224.5 288.9,223.5 289.4,231.1 289.9,239.6 290.5,242.2 291.0,237.4 291.5,232.0 292.0,233.0 292.6,227.3 293.1,222.5 293.6,233.4 294.1,238.0 294.7,229.2 295.2,221.5 295.7,207.6 296.2,205.9 296.7,224.3 297.3,247.9 297.8,268.4 298.3,261.6 298.8,242.5 299.4,239.0 299.9,238.8 300.4,232.7 300.9,231.6 301.4,244.2 302.0,265.1 302.5,279.0 303.0,276.4 303.5,265.3 304.1,246.6 304.6,236.8 305.1,253.8 305.6,270.6 306.2,266.9 306.7,249.4 307.2,237.1 307.7,243.8 308.2,266.7 308.8,274.9 309.3,264.5 309.8,267.2 310.3,283.9 310.9,294.2 311.4,290.9 311.9,295.4 312.4,301.9 312.9,299.0 313.5,277.8 314.0,251.2 314.5,241.1 315.0,238.6 315.6,239.0 316.1,251.0 316.6,262.0 317.1,265.9 317.7,270.1 318.2,263.9 318.7,247.7 319.2,243.3 319.7,251.1 320.3,244.7 320.8,238.2 321.3,253.8 321.8,263.6 322.4,254.7 322.9,249.9 323.4,241.8 323.9,236.9 324.4,243.1 325.0,253.2 325.5,251.9 326.0,244.6 326.5,245.1 327.1,248.2 327.6,246.4 328.1,262.3 328.6,280.2 329.2,294.2 329.7,298.0 330.2,275.4 330.7,251.1 331.2,252.0 331.8,273.2 332.3,285.9 332.8,268.9 333.3,240.9 333.9,225.2 334.4,216.4 334.9,221.8 335.4,227.8 335.9,222.6 336.5,225.4 337.0,244.3 337.5,257.0 338.0,255.1 338.6,256.2 339.1,257.8 339.6,247.4 340.1,250.7 340.6,273.6 341.2,284.3 341.7,274.6 342.2,254.3 342.7,248.2 343.3,271.7 343.8,288.6 344.3,287.4 344.8,281.0 345.4,277.5 345.9,272.6 346.4,267.6 346.9,253.8 347.4,242.5 348.0,243.9 348.5,240.5 349.0,241.8 349.5,240.9 350.1,237.0 350.6,237.1 351.1,222.5 351.6,216.6 352.1,240.1 352.7,260.4 353.2,247.0 353.7,230.3 354.2,232.1 354.8,234.1 355.3,217.4 355.8,221.2 356.3,252.7 356.9,270.2 357.4,258.2 357.9,223.3 358.4,193.2 358.9,188.6 359.5,203.3 360.0,210.4 360.5,208.2 361.0,204.3 361.6,200.5 362.1,211.8 362.6,233.2 363.1,252.4 363.6,255.9 364.2,237.8 364.7,227.4 365.2,225.2 365.7,216.3 366.3,223.2 366.8,252.4 367.3,276.3 367.8,284.0 368.4,280.9 368.9,265.8 369.4,243.5 369.9,234.6 370.4,239.1 371.0,231.4 371.5,224.0 372.0,230.0 372.5,254.9 373.1,272.2 373.6,268.2 374.1,276.1 374.6,280.8 375.1,268.8 375.7,275.5 376.2,294.0 376.7,285.3 377.2,266.4 377.8,272.4 378.3,282.2 378.8,283.0 379.3,276.0 379.9,277.3 380.4,278.3 380.9,272.3 381.4,254.3 381.9,248.8 382.5,267.6 383.0,270.3 383.5,257.1 384.0,257.0 384.6,264.6 385.1,265.0 385.6,258.8 386.1,251.3 386.6,252.8 387.2,247.4 387.7,240.9 388.2,243.6 388.7,249.6 389.3,248.9 389.8,252.4 390.3,266.3 390.8,265.1 391.4,243.4 391.9,243.3 392.4,256.0 392.9,255.1 393.4,255.8 394.0,248.8 394.5,237.9 395.0,250.6 395.5,271.8 396.1,286.6 396.6,299.1 397.1,300.6 397.6,295.4 398.1,293.4 398.7,287.7 399.2,275.2 399.7,262.0 400.2,242.8 400.8,237.3 401.3,254.3 401.8,263.8 402.3,275.3 402.9,292.5 403.4,283.2 403.9,253.1 404.4,237.6 404.9,241.1 405.5,252.3 406.0,242.8 406.5,226.4 407.0,237.3 407.6,264.2 408.1,269.0 408.6,259.0 409.1,262.6 409.6,278.0 410.2,268.8 410.7,247.0 411.2,243.5 411.7,241.1 412.3,241.1 412.8,265.2 413.3,289.5 413.8,296.7 414.4,301.6 414.9,297.4 415.4,273.1 415.9,253.8 416.4,255.6 417.0,266.5 417.5,273.9 418.0,263.3 418.5,250.5 419.1,250.3 419.6,255.8 420.1,265.8 420.6,273.0 421.1,270.3 421.7,273.9 422.2,275.8 422.7,257.5 423.2,251.1 423.8,264.2 424.3,262.7 424.8,255.6 425.3,266.2 425.8,278.8 426.4,277.3 426.9,261.8 427.4,252.1 427.9,266.0 428.5,273.5 429.0,254.5 429.5,250.5 430.0,271.3 430.6,283.5 431.1,275.1 431.6,250.0 432.1,245.2 432.6,270.0 433.2,284.8 433.7,283.4 434.2,271.8 434.7,271.4 435.3,295.0 435.8,298.8 436.3,275.3 436.8,252.5 437.3,244.1 437.9,260.7 438.4,274.0 438.9,252.8 439.4,225.5 440.0,236.4 440.5,257.5 441.0,253.6 441.5,251.4 442.1,261.7 442.6,270.0 443.1,265.4 443.6,271.5 444.1,271.3 444.7,262.6 445.2,268.6 445.7,282.9 446.2,286.9 446.8,285.1 447.3,289.8 447.8,290.9 448.3,278.6 448.8,261.5 449.4,253.1 449.9,257.8 450.4,278.9 450.9,291.2 451.5,277.9 452.0,269.1 452.5,274.3 453.0,266.1 453.6,254.3 454.1,249.2 454.6,239.4 455.1,241.2 455.6,253.6 456.2,259.5 456.7,274.0 457.2,282.0 457.7,265.0 458.3,244.6 458.8,240.2 459.3,248.5 459.8,250.0 460.3,252.7 460.9,245.0 461.4,225.9 461.9,227.9 462.4,237.3 463.0,239.7 463.5,259.5 464.0,269.0 464.5,249.8 465.1,233.8 465.6,234.8 466.1,222.5 466.6,223.2 467.1,237.5 467.7,230.7 468.2,217.4 468.7,211.2 469.2,205.5 469.8,200.9 470.3,208.5 470.8,222.5 471.3,225.4 471.8,227.2 472.4,218.0 472.9,205.8 473.4,216.3 473.9,240.3 474.5,238.2 475.0,218.2 475.5,213.2 476.0,219.5 476.6,220.7 477.1,231.6 477.6,237.0 478.1,230.9 478.6,238.0 479.2,253.3 479.7,264.5 480.2,273.7 480.7,283.5 481.3,276.7 481.8,249.6 482.3,231.4 482.8,226.1 483.3,238.1 483.9,269.3 484.4,287.4 484.9,282.4 485.4,266.8 486.0,254.4 486.5,258.5 487.0,260.3 487.5,259.9 488.1,270.7 488.6,267.8 489.1,245.2 489.6,237.5 490.1,248.2 490.7,261.0 491.2,273.3 491.7,268.6 492.2,264.5 492.8,271.9 493.3,271.2 493.8,260.6 494.3,262.0 494.8,275.6 495.4,281.4 495.9,276.9 496.4,265.1 496.9,273.3 497.5,286.5 498.0,278.0 498.5,263.0 499.0,260.1 499.6,244.2 500.1,225.5 500.6,240.8 501.1,269.7 501.6,271.9 502.2,262.2 502.7,264.2 503.2,282.9 503.7,302.9 504.3,310.1 504.8,301.1 505.3,290.9 505.8,292.2 506.3,288.0 506.9,285.0 507.4,288.0 507.9,275.2 508.4,254.1 509.0,257.9 509.5,269.4 510.0,274.6 510.5,283.8 511.0,267.3 511.6,232.2 512.1,226.8 512.6,255.7 513.1,287.9 513.7,304.9 514.2,315.6 514.7,319.9 515.2,319.0 515.8,306.8 516.3,293.8 516.8,293.0 517.3,277.2 517.8,258.0 518.4,268.4 518.9,282.8 519.4,274.8 519.9,253.1 520.5,244.4 521.0,248.0 521.5,258.0 522.0,271.2 522.5,264.8 523.1,238.2 523.6,219.5 524.1,222.1 524.6,238.1 525.2,257.5 525.7,268.2 526.2,265.6 526.7,275.7 527.3,276.6 527.8,256.4 528.3,242.2 528.8,249.6 529.3,273.3 529.9,296.5 530.4,293.1 530.9,264.2 531.4,255.2 532.0,266.1 532.5,266.3 533.0,276.8 533.5,293.1 534.0,300.2 534.6,304.3 535.1,299.7 535.6,290.5 536.1,276.1 536.7,261.9 537.2,247.9 537.7,253.8 538.2,276.9 538.8,279.6 539.3,270.5 539.8,285.3 540.3,304.7 540.8,293.4 541.4,264.8 541.9,266.5 542.4,285.4 542.9,285.9 543.5,273.0 544.0,251.6 544.5,233.2 545.0,249.4 545.5,287.2 546.1,297.6 546.6,275.6 547.1,250.1 547.6,240.1 548.2,242.8 548.7,251.8 549.2,255.5 549.7,256.1 550.3,260.9 550.8,256.4 551.3,252.7 551.8,238.7 552.3,223.3 552.9,233.7 553.4,245.8 553.9,238.8 554.4,236.3 555.0,245.9 555.5,246.8 556.0,233.5 556.5,211.1 557.0,201.9 557.6,205.5 558.1,207.6 558.6,204.1 559.1,191.1 559.7,161.0 560.2,150.0 560.7,173.6 561.2,190.3 561.8,190.5 562.3,195.6 562.8,201.5 563.3,206.5 563.8,205.1 564.4,202.9 564.9,195.7 565.4,196.1 565.9,206.4 566.5,204.7 567.0,210.4 567.5,226.7 568.0,239.4 568.5,245.9 569.1,238.8 569.6,226.5 570.1,218.5 570.6,195.9 571.2,169.7 571.7,159.0 572.2,161.1 572.7,178.8 573.3,197.9 573.8,200.0 574.3,191.9 574.8,165.4 575.3,149.5 575.9,160.6 576.4,180.6 576.9,195.2 577.4,197.8 578.0,204.2 578.5,212.5 579.0,198.1 579.5,163.9 580.0,162.9" fill="none" stroke="#1b5fae" stroke-width="1.3" stroke-linejoin="round"/>
<polyline points="67.8,232.0 68.3,232.2 68.8,232.6 69.4,233.0 69.9,233.4 70.4,233.9 70.9,234.4 71.5,234.8 72.0,235.2 72.5,235.6 73.0,235.9 73.5,236.2 74.1,236.5 74.6,236.8 75.1,237.0 75.6,237.1 76.2,237.2 76.7,237.2 77.2,237.0 77.7,236.8 78.3,236.5 78.8,236.1 79.3,235.6 79.8,235.1 80.3,234.6 80.9,234.2 81.4,233.7 81.9,233.3 82.4,233.0 83.0,232.7 83.5,232.3 84.0,232.0 84.5,231.7 85.0,231.4 85.6,231.2 86.1,231.0 86.6,230.8 87.1,230.7 87.7,230.6 88.2,230.6 88.7,230.7 89.2,230.7 89.8,230.8 90.3,231.0 90.8,231.1 91.3,231.2 91.8,231.4 92.4,231.5 92.9,231.7 93.4,231.9 93.9,232.2 94.5,232.4 95.0,232.7 95.5,232.9 96.0,233.1 96.5,233.2 97.1,233.2 97.6,233.2 98.1,233.0 98.6,232.8 99.2,232.5 99.7,232.1 100.2,231.7 100.7,231.3 101.3,230.9 101.8,230.4 102.3,229.9 102.8,229.4 103.3,228.8 103.9,228.2 104.4,227.5 104.9,226.8 105.4,226.2 106.0,225.5 106.5,224.9 107.0,224.4 107.5,223.9 108.0,223.4 108.6,222.9 109.1,222.5 109.6,222.1 110.1,221.8 110.7,221.5 111.2,221.4 111.7,221.3 112.2,221.3 112.8,221.4 113.3,221.6 113.8,221.8 114.3,222.1 114.8,222.4 115.4,222.8 115.9,223.1 116.4,223.5 116.9,223.9 117.5,224.4 118.0,224.8 118.5,225.3 119.0,225.9 119.5,226.5 120.1,227.0 120.6,227.6 121.1,228.1 121.6,228.7 122.2,229.1 122.7,229.6 123.2,230.0 123.7,230.4 124.3,230.8 124.8,231.2 125.3,231.6 125.8,232.0 126.3,232.5 126.9,233.0 127.4,233.5 127.9,233.9 128.4,234.4 129.0,234.9 129.5,235.5 130.0,236.0 130.5,236.5 131.0,237.1 131.6,237.6 132.1,238.2 132.6,238.7 133.1,239.2 133.7,239.8 134.2,240.4 134.7,241.0 135.2,241.6 135.8,242.2 136.3,242.8 136.8,243.4 137.3,243.9 137.8,244.4 138.4,244.8 138.9,245.0 139.4,245.4 139.9,245.7 140.5,245.8 141.0,245.7 141.5,245.3 142.0,244.7 142.5,243.8 143.1,242.8 143.6,241.5 144.1,240.1 144.6,238.5 145.2,236.9 145.7,235.2 146.2,233.6 146.7,232.1 147.3,230.7 147.8,229.3 148.3,227.8 148.8,226.3 149.3,224.8 149.9,223.3 150.4,221.9 150.9,220.6 151.4,219.4 152.0,218.2 152.5,216.8 153.0,215.5 153.5,214.3 154.0,213.2 154.6,212.3 155.1,211.6 155.6,211.2 156.1,211.1 156.7,211.3 157.2,211.7 157.7,212.3 158.2,213.2 158.7,214.1 159.3,215.2 159.8,216.3 160.3,217.4 160.8,218.6 161.4,220.0 161.9,221.5 162.4,223.1 162.9,224.7 163.5,226.3 164.0,227.8 164.5,229.3 165.0,230.6 165.5,231.9 166.1,233.3 166.6,234.6 167.1,235.8 167.6,237.0 168.2,238.1 168.7,239.1 169.2,240.0 169.7,240.8 170.2,241.6 170.8,242.4 171.3,243.0 171.8,243.5 172.3,243.9 172.9,244.2 173.4,244.3 173.9,244.3 174.4,244.3 175.0,244.2 175.5,244.0 176.0,243.7 176.5,243.4 177.0,243.1 177.6,242.8 178.1,242.4 178.6,242.0 179.1,241.5 179.7,241.0 180.2,240.4 180.7,239.8 181.2,239.2 181.7,238.7 182.3,238.1 182.8,237.6 183.3,237.2 183.8,236.9 184.4,236.5 184.9,236.2 185.4,235.9 185.9,235.7 186.5,235.4 187.0,235.2 187.5,235.1 188.0,234.9 188.5,234.8 189.1,234.8 189.6,234.8 190.1,234.9 190.6,235.0 191.2,235.1 191.7,235.2 192.2,235.3 192.7,235.5 193.2,235.6 193.8,235.8 194.3,236.0 194.8,236.3 195.3,236.5 195.9,236.7 196.4,236.9 196.9,237.0 197.4,237.1 198.0,237.2 198.5,237.2 199.0,237.1 199.5,237.1 200.0,236.9 200.6,236.7 201.1,236.5 201.6,236.3 202.1,236.1 202.7,235.8 203.2,235.5 203.7,235.2 204.2,234.9 204.7,234.6 205.3,234.3 205.8,234.1 206.3,233.9 206.8,233.7 207.4,233.6 207.9,233.4 208.4,233.3 208.9,233.2 209.5,233.1 210.0,233.1 210.5,233.1 211.0,233.2 211.5,233.3 212.1,233.5 212.6,233.7 213.1,234.0 213.6,234.4 214.2,234.7 214.7,235.1 215.2,235.4 215.7,235.8 216.2,236.2 216.8,236.6 217.3,237.2 217.8,237.8 218.3,238.4 218.9,239.0 219.4,239.5 219.9,239.9 220.4,240.1 221.0,240.1 221.5,239.9 222.0,239.3 222.5,238.5 223.0,237.4 223.6,236.2 224.1,234.9 224.6,233.5 225.1,232.2 225.7,230.8 226.2,229.6 226.7,228.5 227.2,227.2 227.7,225.8 228.3,224.4 228.8,223.0 229.3,221.7 229.8,220.6 230.4,219.5 230.9,218.7 231.4,218.1 231.9,217.7 232.5,217.4 233.0,217.3 233.5,217.3 234.0,217.6 234.5,218.0 235.1,218.7 235.6,219.6 236.1,220.7 236.6,222.2 237.2,223.9 237.7,226.0 238.2,228.4 238.7,231.0 239.2,233.7 239.8,236.5 240.3,239.2 240.8,241.8 241.3,244.3 241.9,246.6 242.4,249.1 242.9,251.8 243.4,254.5 243.9,257.1 244.5,259.5 245.0,261.7 245.5,263.4 246.0,264.7 246.6,265.5 247.1,265.5 247.6,264.8 248.1,263.4 248.7,261.6 249.2,259.5 249.7,257.2 250.2,255.0 250.7,252.9 251.3,251.0 251.8,248.9 252.3,246.8 252.8,244.6 253.4,242.4 253.9,240.3 254.4,238.2 254.9,236.3 255.4,234.8 256.0,233.3 256.5,231.7 257.0,230.2 257.5,228.8 258.1,227.4 258.6,226.2 259.1,225.1 259.6,224.2 260.2,223.6 260.7,223.3 261.2,223.3 261.7,223.7 262.2,224.3 262.8,225.1 263.3,226.0 263.8,226.9 264.3,227.8 264.9,228.6 265.4,229.6 265.9,230.7 266.4,231.7 266.9,232.9 267.5,233.9 268.0,235.0 268.5,235.7 269.0,236.5 269.6,237.3 270.1,238.0 270.6,238.8 271.1,239.5 271.7,240.2 272.2,240.8 272.7,241.4 273.2,241.9 273.7,242.3 274.3,242.6 274.8,242.9 275.3,243.2 275.8,243.5 276.4,243.7 276.9,244.0 277.4,244.4 277.9,244.8 278.4,245.3 279.0,245.9 279.5,246.5 280.0,247.1 280.5,247.8 281.1,248.3 281.6,248.8 282.1,249.1 282.6,249.3 283.2,249.3 283.7,249.2 284.2,249.0 284.7,248.7 285.2,248.4 285.8,248.0 286.3,247.6 286.8,247.1 287.3,246.7 287.9,246.2 288.4,245.7 288.9,245.2 289.4,244.8 289.9,244.2 290.5,243.5 291.0,242.7 291.5,241.9 292.0,241.1 292.6,240.4 293.1,239.7 293.6,239.1 294.1,238.7 294.7,238.4 295.2,238.4 295.7,238.4 296.2,238.7 296.7,239.1 297.3,239.7 297.8,240.4 298.3,241.2 298.8,242.2 299.4,243.4 299.9,244.7 300.4,246.2 300.9,247.8 301.4,249.6 302.0,251.4 302.5,253.3 303.0,255.2 303.5,257.1 304.1,259.6 304.6,262.2 305.1,264.9 305.6,267.6 306.2,270.2 306.7,272.7 307.2,275.6 307.7,278.7 308.2,281.7 308.8,284.3 309.3,286.2 309.8,287.3 310.3,288.0 310.9,288.1 311.4,287.9 311.9,287.1 312.4,286.0 312.9,284.4 313.5,282.4 314.0,280.1 314.5,277.6 315.0,275.3 315.6,273.1 316.1,270.9 316.6,268.8 317.1,266.6 317.7,264.5 318.2,262.5 318.7,260.6 319.2,259.1 319.7,257.6 320.3,256.2 320.8,254.8 321.3,253.5 321.8,252.4 322.4,251.4 322.9,250.6 323.4,250.2 323.9,250.0 324.4,250.0 325.0,250.1 325.5,250.2 326.0,250.5 326.5,250.8 327.1,251.0 327.6,251.3 328.1,251.4 328.6,251.5 329.2,251.5 329.7,251.5 330.2,251.5 330.7,251.5 331.2,251.5 331.8,251.4 332.3,251.3 332.8,251.2 333.3,250.9 333.9,250.6 334.4,250.2 334.9,249.6 335.4,248.8 335.9,248.0 336.5,247.2 337.0,246.3 337.5,245.4 338.0,244.6 338.6,243.8 339.1,243.2 339.6,242.7 340.1,242.3 340.6,241.9 341.2,241.7 341.7,241.5 342.2,241.4 342.7,241.4 343.3,241.5 343.8,241.7 344.3,241.9 344.8,242.2 345.4,242.7 345.9,243.2 346.4,243.8 346.9,244.4 347.4,245.1 348.0,245.7 348.5,246.3 349.0,247.5 349.5,248.7 350.1,249.8 350.6,250.5 351.1,250.6 351.6,250.5 352.1,250.3 352.7,249.9 353.2,249.5 353.7,249.1 354.2,248.5 354.8,248.0 355.3,247.3 355.8,246.7 356.3,246.1 356.9,245.4 357.4,244.5 357.9,243.5 358.4,242.4 358.9,241.3 359.5,240.2 360.0,239.2 360.5,238.4 361.0,237.8 361.6,237.4 362.1,237.3 362.6,237.4 363.1,237.7 363.6,238.1 364.2,238.7 364.7,239.4 365.2,240.2 365.7,241.0 366.3,241.9 366.8,242.9 367.3,243.8 367.8,245.1 368.4,246.6 368.9,248.2 369.4,249.9 369.9,251.7 370.4,253.4 371.0,255.0 371.5,256.5 372.0,257.8 372.5,259.1 373.1,260.4 373.6,261.6 374.1,262.8 374.6,263.8 375.1,264.7 375.7,265.4 376.2,265.8 376.7,266.1 377.2,266.3 377.8,266.3 378.3,266.3 378.8,266.2 379.3,266.0 379.9,265.8 380.4,265.5 380.9,265.1 381.4,264.7 381.9,264.1 382.5,263.4 383.0,262.6 383.5,261.6 384.0,260.6 384.6,259.6 385.1,258.6 385.6,257.7 386.1,256.9 386.6,256.2 387.2,255.7 387.7,255.4 388.2,255.1 388.7,254.9 389.3,254.8 389.8,254.7 390.3,254.6 390.8,254.5 391.4,254.4 391.9,254.3 392.4,254.2 392.9,254.0 393.4,253.7 394.0,253.3 394.5,252.9 395.0,252.4 395.5,251.8 396.1,251.2 396.6,250.6 397.1,250.1 397.6,249.5 398.1,249.0 398.7,248.5 399.2,248.0 399.7,247.6 400.2,247.1 400.8,246.6 401.3,246.2 401.8,245.8 402.3,245.4 402.9,245.1 403.4,244.9 403.9,244.9 404.4,244.9 404.9,245.1 405.5,245.3 406.0,245.7 406.5,246.1 407.0,246.6 407.6,247.2 408.1,247.9 408.6,248.5 409.1,249.3 409.6,250.0 410.2,250.8 410.7,251.7 411.2,252.8 411.7,253.9 412.3,255.0 412.8,256.2 413.3,257.4 413.8,258.5 414.4,259.6 414.9,260.6 415.4,261.5 415.9,262.3 416.4,263.1 417.0,263.8 417.5,264.5 418.0,265.2 418.5,265.9 419.1,266.4 419.6,267.0 420.1,267.4 420.6,267.8 421.1,268.1 421.7,268.2 422.2,268.4 422.7,268.5 423.2,268.5 423.8,268.5 424.3,268.4 424.8,268.4 425.3,268.3 425.8,268.2 426.4,268.1 426.9,268.0 427.4,267.9 427.9,267.8 428.5,267.7 429.0,267.5 429.5,267.4 430.0,267.2 430.6,267.1 431.1,266.9 431.6,266.7 432.1,266.5 432.6,266.3 433.2,266.0 433.7,265.8 434.2,265.5 434.7,265.1 435.3,264.7 435.8,264.2 436.3,263.8 436.8,263.2 437.3,262.5 437.9,261.7 438.4,260.9 438.9,260.0 439.4,258.9 440.0,257.8 440.5,256.6 441.0,255.4 441.5,254.3 442.1,253.2 442.6,252.3 443.1,251.5 443.6,251.0 444.1,250.5 444.7,250.1 445.2,249.8 445.7,249.4 446.2,249.2 446.8,248.9 447.3,248.7 447.8,248.5 448.3,248.4 448.8,248.3 449.4,248.2 449.9,248.2 450.4,248.3 450.9,248.4 451.5,248.7 452.0,249.0 452.5,249.3 453.0,249.6 453.6,249.9 454.1,250.2 454.6,250.4 455.1,250.5 455.6,250.5 456.2,250.4 456.7,250.2 457.2,249.8 457.7,249.3 458.3,248.8 458.8,248.2 459.3,247.5 459.8,246.9 460.3,246.1 460.9,245.4 461.4,244.7 461.9,244.0 462.4,243.3 463.0,242.6 463.5,242.0 464.0,241.3 464.5,240.6 465.1,239.8 465.6,239.0 466.1,238.2 466.6,237.5 467.1,236.8 467.7,236.1 468.2,235.5 468.7,234.9 469.2,234.5 469.8,234.2 470.3,234.0 470.8,234.0 471.3,234.2 471.8,234.6 472.4,235.1 472.9,235.8 473.4,236.5 473.9,237.4 474.5,238.3 475.0,239.1 475.5,240.0 476.0,240.8 476.6,241.5 477.1,242.2 477.6,243.0 478.1,243.9 478.6,244.7 479.2,245.6 479.7,246.5 480.2,247.3 480.7,248.1 481.3,248.9 481.8,249.6 482.3,250.3 482.8,250.9 483.3,251.4 483.9,251.9 484.4,252.3 484.9,252.8 485.4,253.2 486.0,253.5 486.5,253.9 487.0,254.3 487.5,254.7 488.1,255.1 488.6,255.5 489.1,256.0 489.6,256.5 490.1,257.0 490.7,257.5 491.2,258.0 491.7,258.6 492.2,259.1 492.8,259.6 493.3,260.2 493.8,260.7 494.3,261.2 494.8,261.8 495.4,262.3 495.9,262.7 496.4,263.2 496.9,263.7 497.5,264.2 498.0,264.8 498.5,265.3 499.0,265.8 499.6,266.3 500.1,266.8 500.6,267.2 501.1,267.6 501.6,268.0 502.2,268.2 502.7,268.4 503.2,268.5 503.7,268.5 504.3,268.4 504.8,268.3 505.3,268.1 505.8,267.8 506.3,267.5 506.9,267.1 507.4,266.8 507.9,266.4 508.4,266.0 509.0,265.6 509.5,265.3 510.0,265.0 510.5,264.7 511.0,264.5 511.6,264.2 512.1,264.0 512.6,263.8 513.1,263.5 513.7,263.3 514.2,263.1 514.7,262.9 515.2,262.8 515.8,262.6 516.3,262.5 516.8,262.4 517.3,262.4 517.8,262.4 518.4,262.5 518.9,262.6 519.4,262.7 519.9,262.9 520.5,263.1 521.0,263.3 521.5,263.5 522.0,263.7 522.5,263.8 523.1,264.0 523.6,264.1 524.1,264.1 524.6,264.1 525.2,264.1 525.7,264.0 526.2,263.9 526.7,263.8 527.3,263.7 527.8,263.6 528.3,263.5 528.8,263.5 529.3,263.5 529.9,263.5 530.4,263.6 530.9,263.6 531.4,263.7 532.0,263.9 532.5,264.0 533.0,264.2 533.5,264.4 534.0,264.6 534.6,264.8 535.1,265.1 535.6,265.4 536.1,265.8 536.7,266.4 537.2,267.1 537.7,267.8 538.2,268.5 538.8,269.2 539.3,269.9 539.8,270.4 540.3,270.8 540.8,271.0 541.4,270.9 541.9,270.6 542.4,270.1 542.9,269.5 543.5,268.7 544.0,267.8 544.5,266.7 545.0,265.6 545.5,264.3 546.1,262.9 546.6,261.4 547.1,259.7 547.6,257.6 548.2,255.4 548.7,253.0 549.2,250.4 549.7,247.8 550.3,245.1 550.8,242.4 551.3,239.7 551.8,237.1 552.3,234.3 552.9,231.4 553.4,228.5 553.9,225.6 554.4,222.7 555.0,219.8 555.5,217.1 556.0,214.5 556.5,211.7 557.0,208.7 557.6,205.6 558.1,202.6 558.6,199.8 559.1,197.4 559.7,195.5 560.2,194.2 560.7,193.6 561.2,193.8 561.8,194.6 562.3,195.9 562.8,197.4 563.3,199.0 563.8,200.4 564.4,201.5 564.9,202.6 565.4,203.8 565.9,205.1 566.5,206.4 567.0,207.7 567.5,208.8 568.0,209.6 568.5,210.2 569.1,210.5 569.6,210.6 570.1,210.5 570.6,210.2 571.2,209.7 571.7,209.1 572.2,208.3 572.7,207.4 573.3,206.3 573.8,205.0 574.3,203.4 574.8,201.5 575.3,199.4 575.9,197.1 576.4,194.9 576.9,192.8 577.4,190.8 578.0,189.2 578.5,187.4 579.0,185.7 579.5,184.8 580.0,184.2" fill="none" stroke="#1a1a1a" stroke-width="1.8" stroke-linejoin="round"/>
<path d="M67.8,230.5L538.2,262.1" stroke="#d6257a" stroke-width="2.2" stroke-dasharray="7 7.4" fill="none"/>
<path d="M67.8,68.3H80M324,68.3H595.6" stroke="#000" stroke-width="1.1" stroke-dasharray="1.3 3.4" fill="none"/>
<rect x="67.8" y="8.5" width="527.8" height="373.8" fill="none" stroke="#000" stroke-width="1.1"/>
<path d="M67.80,382.3v-7.5M67.80,8.5v7.5M93.94,382.3v-4M93.94,8.5v4M120.07,382.3v-4M120.07,8.5v4M146.20,382.3v-4M146.20,8.5v4M172.34,382.3v-7.5M172.34,8.5v7.5M198.48,382.3v-4M198.48,8.5v4M224.61,382.3v-4M224.61,8.5v4M250.75,382.3v-4M250.75,8.5v4M276.88,382.3v-7.5M276.88,8.5v7.5M303.02,382.3v-4M303.02,8.5v4M329.15,382.3v-4M329.15,8.5v4M355.29,382.3v-4M355.29,8.5v4M381.42,382.3v-7.5M381.42,8.5v7.5M407.56,382.3v-4M407.56,8.5v4M433.69,382.3v-4M433.69,8.5v4M459.83,382.3v-4M459.83,8.5v4M485.96,382.3v-7.5M485.96,8.5v7.5M512.10,382.3v-4M512.10,8.5v4M538.23,382.3v-4M538.23,8.5v4M564.37,382.3v-4M564.37,8.5v4M590.50,382.3v-7.5M590.50,8.5v7.5M67.8,382.30h10M595.6,382.30h-10M67.8,363.61h5M595.6,363.61h-5M67.8,344.92h5M595.6,344.92h-5M67.8,326.23h5M595.6,326.23h-5M67.8,307.54h5M595.6,307.54h-5M67.8,288.85h10M595.6,288.85h-10M67.8,270.16h5M595.6,270.16h-5M67.8,251.47h5M595.6,251.47h-5M67.8,232.78h5M595.6,232.78h-5M67.8,214.09h5M595.6,214.09h-5M67.8,195.40h10M595.6,195.40h-10M67.8,176.71h5M595.6,176.71h-5M67.8,158.02h5M595.6,158.02h-5M67.8,139.33h5M595.6,139.33h-5M67.8,120.64h5M595.6,120.64h-5M67.8,101.95h10M595.6,101.95h-10M67.8,83.26h5M595.6,83.26h-5M67.8,64.57h5M595.6,64.57h-5M67.8,45.88h5M595.6,45.88h-5M67.8,27.19h5M595.6,27.19h-5M67.8,8.50h10M595.6,8.50h-10" stroke="#000" stroke-width="1" fill="none"/>
<g font-family="Liberation Sans, sans-serif" font-size="12.3" fill="#111">
<text x="67.8" y="396.7" text-anchor="middle">1000</text><text x="172.3" y="396.7" text-anchor="middle">1200</text><text x="276.9" y="396.7" text-anchor="middle">1400</text><text x="381.4" y="396.7" text-anchor="middle">1600</text><text x="486.0" y="396.7" text-anchor="middle">1800</text><text x="590.5" y="396.7" text-anchor="middle">2000</text>
<text x="64.3" y="16.7" text-anchor="end">1.0</text><text x="64.3" y="106.2" text-anchor="end">0.5</text><text x="64.3" y="199.5" text-anchor="end">0.0</text><text x="62.4" y="292.9" text-anchor="end">−0.5</text><text x="62.4" y="382.5" text-anchor="end">−1.0</text>
<text x="331.5" y="409.3" text-anchor="middle" font-size="13">Year</text>
<text transform="translate(16.5,197) rotate(-90)" text-anchor="middle" font-size="12.65">Northern Hemisphere anomaly (°C)</text>
<text transform="translate(32,197) rotate(-90)" text-anchor="middle" font-size="12.65">relative to 1961 to 1990</text>
</g>
<g font-family="Liberation Sans, sans-serif" font-size="12.7" fill="#111">
<path d="M93.7,27.2H120.2" stroke="#d4604c" stroke-width="1"/>
<path d="M93.7,40.4H120.2" stroke="#3558a0" stroke-width="1"/>
<path d="M93.7,53.8H120.2" stroke="#111" stroke-width="2"/>
<path d="M93.7,67.6H101.5M108.2,67.6H115.9" stroke="#d6257a" stroke-width="2.2"/>
<text x="131" y="30.6">Instrumental data (AD 1902 to 1999)</text>
<text x="131" y="43.9">Reconstruction (AD 1000 to 1980)</text>
<text x="131" y="57.2">Reconstruction (40 year smoothed)</text>
<text x="131" y="70.5">Linear trend (AD 1000 to 1900)</text>
</g>
<text x="407" y="64.4" font-family="Liberation Sans, sans-serif" font-size="12.7" fill="#111">1998 instrumental value</text>
<text transform="translate(15.3 371.2) rotate(-25.85) scale(0.8785 1)" font-family="Liberation Sans, sans-serif" font-weight="bold" font-size="61" fill="#e62400" stroke="#000" stroke-width="1.6">A<tspan dx="3.4">CHTUNG FÄLSCHUNG</tspan></text>
</svg></body></html>
